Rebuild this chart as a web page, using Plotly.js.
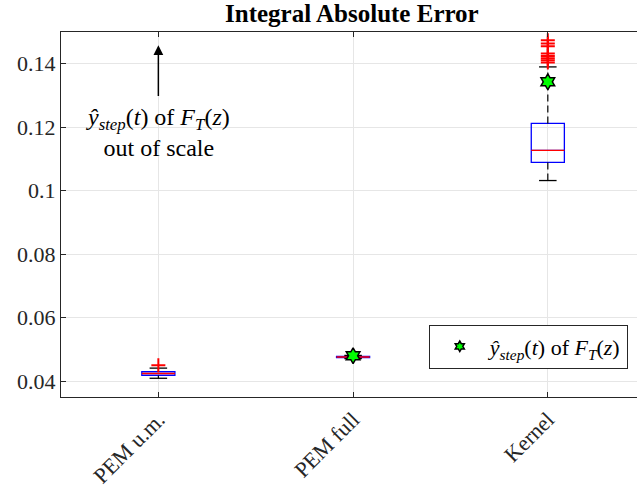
<!DOCTYPE html>
<html>
<head>
<meta charset="utf-8">
<script src="https://cdn.plot.ly/plotly-3.0.1.min.js"></script>
<style>html,body{margin:0;padding:0;background:#fff;}#chart{width:637px;height:493px;}</style>
</head>
<body>
<div id="chart"></div>
<script>
// ---- data ----
const categories = ['PEM u.m.', 'PEM full', 'Kernel'];
const lowerWhisker = [0.0409, 0.0471, 0.1032];
const q1 = [0.0418, 0.0474, 0.1089];
const medians = [0.0424, 0.0476, 0.1127];
const q3 = [0.0430, 0.0478, 0.1212];
const upperWhisker = [0.0441, 0.0481, 0.1390];
const outliers = [[0.0450], [], [0.1474, 0.1464, 0.1455, 0.1432, 0.1424, 0.1417, 0.1411, 0.1404]];
const stepFT = [null, 0.0480, 0.1343];
const yTickVals = [0.04, 0.06, 0.08, 0.1, 0.12, 0.14];
const yTickText = ['0.04', '0.06', '0.08', '0.1', '0.12', '0.14'];

// ---- styles ----
const FONT = 'Liberation Serif, DejaVu Serif, serif';
const AX = '#262626';
const boxW = 0.17, capHalf = 0.045, medHalf = 0.085;
const pos = categories.map((_, i) => i + 1);
const seriesName = '<i>ŷ</i><sub><i>step</i></sub>(<i>t</i>) of <i>F</i><sub><i>T</i></sub>(<i>z</i>)';

const traces = [];
// boxes (no whiskers: fences equal quartiles)
traces.push({
  type: 'box', x: pos, q1: q1, median: medians, q3: q3,
  lowerfence: q1, upperfence: q3, width: boxW,
  line: {color: '#0000ff', width: 1.3}, fillcolor: 'rgba(0,0,0,0)',
  whiskerwidth: 0, showlegend: false, hoverinfo: 'skip', boxpoints: false
});
// whiskers
const wx = [], wy = [];
pos.forEach((p, i) => {
  wx.push(p, p, null, p, p, null);
  wy.push(q3[i], upperWhisker[i], null, q1[i], lowerWhisker[i], null);
});
traces.push({type: 'scatter', mode: 'lines', x: wx, y: wy,
  line: {color: '#000', width: 1.2, dash: '7px,4px'}, showlegend: false, hoverinfo: 'skip'});
// caps
const cx = [], cy = [];
pos.forEach((p, i) => {
  cx.push(p - capHalf, p + capHalf, null, p - capHalf, p + capHalf, null);
  cy.push(upperWhisker[i], upperWhisker[i], null, lowerWhisker[i], lowerWhisker[i], null);
});
traces.push({type: 'scatter', mode: 'lines', x: cx, y: cy,
  line: {color: '#000', width: 1.3}, showlegend: false, hoverinfo: 'skip'});
// medians
const mx = [], my = [];
pos.forEach((p, i) => { mx.push(p - medHalf, p + medHalf, null); my.push(medians[i], medians[i], null); });
traces.push({type: 'scatter', mode: 'lines', x: mx, y: my,
  line: {color: '#ff0000', width: 1.3}, showlegend: false, hoverinfo: 'skip'});
// outliers
const ox = [], oy = [];
outliers.forEach((arr, i) => arr.forEach(v => { ox.push(pos[i]); oy.push(v); }));
traces.push({type: 'scatter', mode: 'markers', x: ox, y: oy,
  marker: {symbol: 'cross-thin', size: 10, line: {color: '#ff0000', width: 2}},
  showlegend: false, hoverinfo: 'skip'});
// star markers
traces.push({type: 'scatter', mode: 'markers', x: pos, y: stepFT, name: seriesName,
  marker: {symbol: 'hexagram', size: 12, color: '#00ff00', line: {color: '#000', width: 1.5}},
  showlegend: false, hoverinfo: 'skip'});
// legend entry (smaller symbol, as in the reference legend)
traces.push({type: 'scatter', mode: 'markers', x: [null], y: [null], name: seriesName,
  marker: {symbol: 'hexagram', size: 8, color: '#00ff00', line: {color: '#000', width: 1.5}},
  showlegend: true, hoverinfo: 'skip'});

// annotation positions
const arrowHead = 0.1458, arrowTail = 0.1294, noteY = 0.1182;

const layout = {
  width: 637, height: 493,
  margin: {l: 61, r: 0, t: 32, b: 96, pad: 0},
  paper_bgcolor: '#fff', plot_bgcolor: '#fff',
  font: {family: FONT, color: AX, size: 22},
  title: {text: '<b>Integral Absolute Error</b>', font: {family: FONT, size: 25, color: '#000'},
    x: 0.505, xref: 'paper', xanchor: 'center', y: 0.974, yref: 'container', yanchor: 'middle'},
  xaxis: {range: [0.5, 3.458], tickvals: pos, ticktext: categories, tickangle: -45,
    showgrid: true, gridcolor: '#e6e6e6', gridwidth: 1, zeroline: false,
    showline: true, linecolor: AX, linewidth: 1, mirror: 'ticks',
    ticks: 'inside', ticklen: 5, tickcolor: AX, tickfont: {family: FONT, size: 22, color: AX}},
  yaxis: {range: [0.035, 0.15], tickvals: yTickVals, ticktext: yTickText,
    showgrid: true, gridcolor: '#e6e6e6', gridwidth: 1, zeroline: false,
    showline: true, linecolor: AX, linewidth: 1,
    ticks: 'inside', ticklen: 5, tickcolor: AX, tickfont: {family: FONT, size: 22, color: AX}},
  legend: {x: 0.984, y: 0.078, xanchor: 'right', yanchor: 'bottom', xref: 'paper', yref: 'paper',
    bgcolor: '#fff', bordercolor: '#262626', borderwidth: 1, tracegroupgap: 0, itemwidth: 50,
    font: {family: FONT, size: 22, color: '#000'}},
  annotations: [
    {x: 1, y: arrowHead, ax: 1, ay: arrowTail, xref: 'x', yref: 'y', axref: 'x', ayref: 'y',
      text: '', showarrow: true, arrowhead: 2, arrowsize: 1.3, arrowwidth: 1.5, arrowcolor: '#000'},
    {x: 1, y: noteY, xref: 'x', yref: 'y', showarrow: false,
      text: seriesName + '<br>out of scale',
      font: {family: FONT, size: 24, color: '#000'}, align: 'center'}
  ],
  showlegend: true
};

Plotly.newPlot('chart', traces, layout, {displayModeBar: false, staticPlot: true});
</script>
</body>
</html>
